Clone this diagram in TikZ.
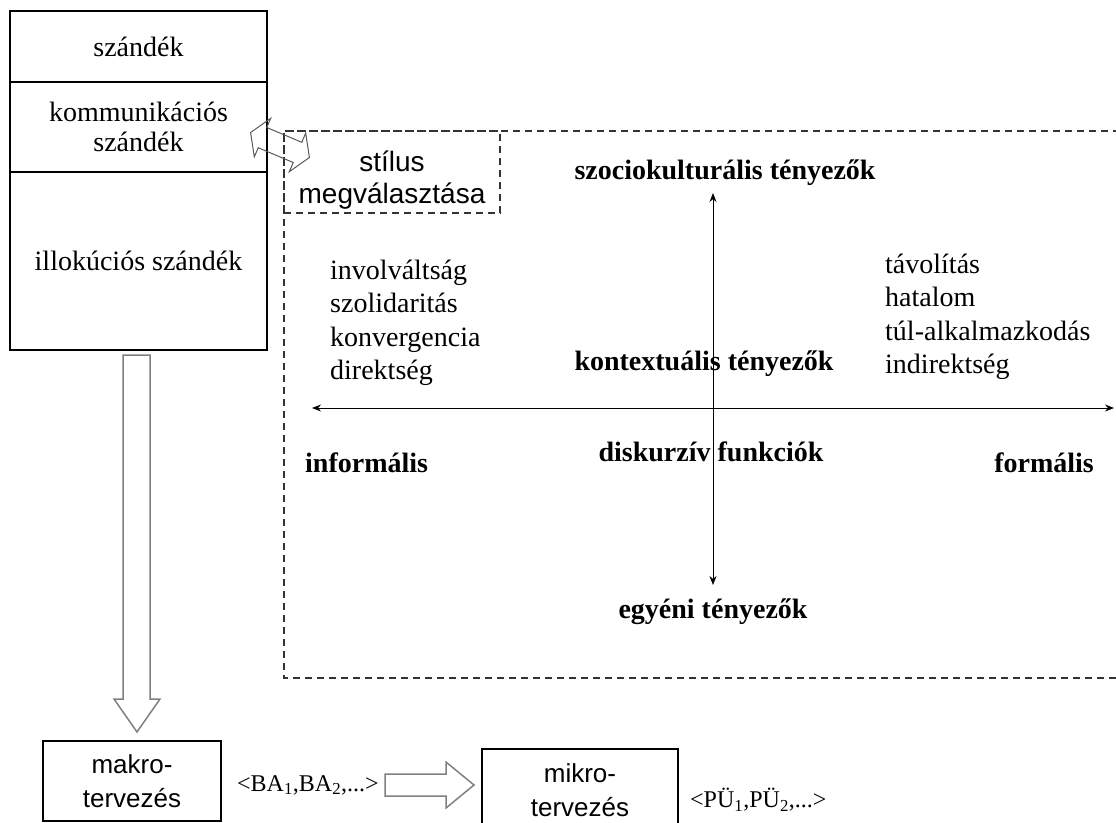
\documentclass[tikz,border=0pt]{standalone}
\usepackage{fontspec}
\setmainfont{Liberation Serif}
\setsansfont{Liberation Sans}
\usetikzlibrary{arrows.meta}

\begin{document}
\begin{tikzpicture}[x=1pt,y=-1pt,
  txt/.style={font=\fontsize{28}{33.5}\selectfont, inner sep=0pt},
  boldtxt/.style={font=\fontsize{28}{33.5}\selectfont\bfseries, inner sep=0pt},
  smalltxt/.style={font=\fontsize{24}{28}\selectfont, inner sep=0pt},
  cell/.style={draw, line width=1.3pt, minimum width=257pt, inner sep=0pt, align=center,
    font=\fontsize{28}{30}\selectfont},
  planbox/.style={draw, line width=1.2pt, inner sep=0pt, align=center,
    font=\sffamily\fontsize{26}{34}\selectfont},
  dashline/.style={draw=black!80, line width=1.6pt, dash pattern=on 7pt off 5pt},
  axis/.style={line width=1pt, {Stealth[length=9pt,width=7pt]}-{Stealth[length=9pt,width=7pt]}},
  blockarrow/.style={draw=black!50, line width=1.5pt, fill=white, line join=miter},
  twowayarrow/.style={draw=black!65, line width=1pt, line join=miter}
]
\useasboundingbox (0,0) rectangle (1116,822);
\clip (0,0) rectangle (1116,822);

% intention column
\node[cell, minimum height=71pt]  (szandek) at (138.5,46.5) {szándék};
\node[cell, minimum height=90pt]  (komm)    at (138.5,127)  {kommunikációs\\szándék};
\node[cell, minimum height=178pt] (illok)   at (138.5,261)  {illokúciós szándék};

% frame of the style space
\coordinate (fTL) at (284,131);
\coordinate (fBL) at (284,678);
\coordinate (fTR) at (1120,131);
\coordinate (fBR) at (1120,678);
\draw[dashline] (fTR) -- (fTL) -- (fBL) -- (fBR);

% style choice box
\node[dashline, minimum width=216pt, minimum height=82pt] (stilus) at (392,172) {};
\node[font=\sffamily\fontsize{28}{32}\selectfont, align=center, inner sep=0pt]
  (stilustxt) at ([yshift=-8pt]stilus.center) {stílus\\megválasztása};

% two-way link between the intention and the style choice
\draw[twowayarrow] (250.6,132.5) -- (254.3,156.9) -- (258.2,147.7) -- (293.2,162.5)
  -- (289.3,171.7) -- (309.4,157.5) -- (305.7,133.1) -- (301.8,142.3)
  -- (266.8,127.5) -- (270.7,118.3) -- cycle;

% axes
\coordinate (hL) at (312,408);
\coordinate (hR) at (1114,408);
\coordinate (vT) at (713,193);
\coordinate (vB) at (713,585);
\draw[axis] (hL) -- (hR);
\draw[axis] (vT) -- (vB);

% axis labels
\node[boldtxt] (szocio)  at (725,173) {szociokulturális tényezők};
\node[boldtxt] (kontext) at (704,364) {kontextuális tényezők};
\node[boldtxt] (diskurz) at (711,452) {diskurzív funkciók};
\node[boldtxt] (egyeni)  at (713,612) {egyéni tényezők};
\node[boldtxt, anchor=west] (inform) at (305,463) {informális};
\node[boldtxt, anchor=east] (formal) at (1094,463) {formális};

% features of the two poles
\node[txt, anchor=west, align=left] (invol) at (330,323)
  {involváltság\\szolidaritás\\konvergencia\\direktség};
\node[txt, anchor=west, align=left] (tavol) at (885,317)
  {távolítás\\hatalom\\túl-alkalmazkodás\\indirektség};

% planning
\draw[blockarrow] (123,355) -- (150,355) -- (150,699) -- (160,699) -- (137,732)
  -- (114,699) -- (123,699) -- cycle;
\node[planbox, minimum width=178pt, minimum height=80pt] (makro) at (132,781) {makro-\\tervezés};
\node[smalltxt, anchor=west] (ba) at (237,785)
  {\textless BA\textsubscript{1},BA\textsubscript{2},...\textgreater};
\draw[blockarrow] (385,774) -- (446,774) -- (446,762) -- (474,785) -- (446,808)
  -- (446,796) -- (385,796) -- cycle;
\node[planbox, minimum width=196pt, minimum height=82pt] (mikro) at (580,790) {mikro-\\tervezés};
\node[smalltxt, anchor=west] (pu) at (690,800)
  {\textless PÜ\textsubscript{1},PÜ\textsubscript{2},...\textgreater};
\end{tikzpicture}
\end{document}
